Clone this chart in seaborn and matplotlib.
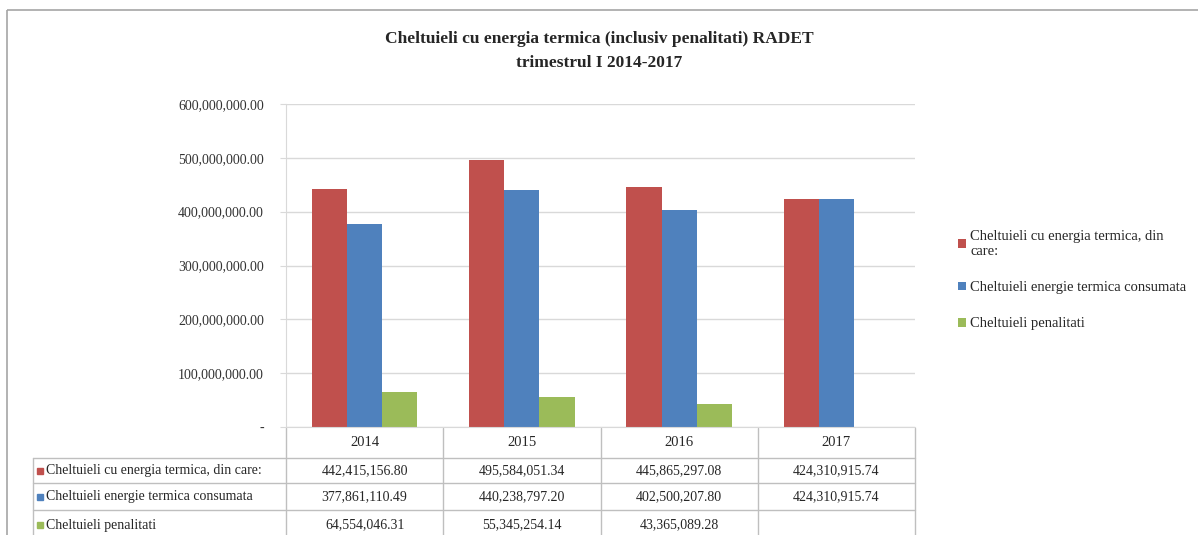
import numpy as np
import pandas as pd
import matplotlib
matplotlib.use("Agg")
from matplotlib import pyplot as plt
from matplotlib import transforms
from matplotlib.patches import Rectangle
import seaborn as sns

# date RADET trimestrul I
ani = ['2014', '2015', '2016', '2017']
serii = ['Cheltuieli cu energia termica, din care:',
         'Cheltuieli energie termica consumata',
         'Cheltuieli penalitati']
total = [442415156.80, 495584051.34, 445865297.08, 424310915.74]
consumata = [377861110.49, 440238797.20, 402500207.80, 424310915.74]
penalitati = [64554046.31, 55345254.14, 43365089.28, np.nan]
culori = ['#C0504D', '#4F81BD', '#9BBB59']

df = pd.DataFrame({
    'An': ani * 3,
    'Serie': [serii[0]] * 4 + [serii[1]] * 4 + [serii[2]] * 4,
    'Valoare': total + consumata + penalitati,
})

sns.set_style('white')
plt.rcParams['font.family'] = ['Liberation Serif', 'DejaVu Serif']

W, H = 1198, 535
fig = plt.figure(figsize=(W / 100, H / 100), dpi=100)

# overlay in pixel coordinates for frame and table
ov = fig.add_axes([0, 0, 1, 1], zorder=0)
ov.set_xlim(0, W)
ov.set_ylim(H, 0)
ov.axis('off')
ov.add_patch(Rectangle((7, 10), W, H, fill=False, ec='#A6A6A6', lw=1.2))

ax = fig.add_axes([286 / W, (H - 427) / H, (915 - 286) / W, (427 - 104) / H], zorder=1)
ax.patch.set_alpha(0)
sns.barplot(data=df, x='An', y='Valoare', hue='Serie', hue_order=serii,
            order=ani, palette=culori, saturation=1, width=0.67,
            errorbar=None, linewidth=0, edgecolor='none', ax=ax)

ax.set_ylim(0, 600000000)
ax.set_yticks(np.arange(0, 600000001, 100000000))
ax.yaxis.set_major_formatter(lambda v, p: '-' if v == 0 else f'{v:,.2f}')
ax.grid(axis='y', color='#D9D9D9', lw=1)
ax.set_axisbelow(True)
ax.set_xlabel('')
ax.set_ylabel('')
ax.set_xticks([])
for s in ['top', 'right']:
    ax.spines[s].set_visible(False)
for s in ['left', 'bottom']:
    ax.spines[s].set_color('#D9D9D9')
ax.tick_params(axis='y', length=4, color='#D9D9D9', labelsize=10,
               labelcolor='#333333', left=True, pad=12)

handles, labels = ax.get_legend_handles_labels()
ax.legend(handles, ['Cheltuieli cu energia termica, din\ncare:',
                    'Cheltuieli energie termica consumata',
                    'Cheltuieli penalitati'],
          loc='upper left', bbox_to_anchor=(952, 224),
          bbox_transform=ov.transData, frameon=False, fontsize=10.5,
          handlelength=0.55, handleheight=0.55, handletextpad=0.3,
          labelspacing=1.6, borderaxespad=0)

fig.text(0.5, 1 - 39 / H, 'Cheltuieli cu energia termica (inclusiv penalitati) RADET',
         ha='center', va='center', fontsize=12.5, fontweight='bold')
fig.text(0.5, 1 - 63 / H, 'trimestrul I 2014-2017',
         ha='center', va='center', fontsize=12.5, fontweight='bold')

# data table below the axes
tr = transforms.blended_transform_factory(ax.transData, ov.transData)
gri = '#BFBFBF'
y_rows = [428, 458, 483, 510, 540]
for i in range(len(ani) + 1):
    ov.plot([i - 0.5, i - 0.5], [428, 540], color=gri, lw=1, transform=tr, clip_on=False)
ov.plot([33, 33], [458, 540], color=gri, lw=1)
x_end = ax.transData.transform((3.5, 0))[0]
x_end = ov.transData.inverted().transform((x_end, 0))[0]
for y in y_rows[1:4]:
    ov.plot([33, x_end], [y, y], color=gri, lw=1)

for i, an in enumerate(ani):
    ov.text(i, 443, an, transform=tr, ha='center', va='center', fontsize=10.5, color='#262626')
rows = [total, consumata, penalitati]
for r, (vals, nume) in enumerate(zip(rows, serii)):
    yc = (y_rows[r + 1] + y_rows[r + 2]) / 2
    ov.add_patch(Rectangle((37, yc - 3), 6, 6, color=culori[r]))
    ov.text(46, yc, nume, ha='left', va='center', fontsize=10, color='#262626')
    for i, v in enumerate(vals):
        if not np.isnan(v):
            ov.text(i, yc, f'{v:,.2f}', transform=tr, ha='center', va='center',
                    fontsize=10, color='#262626')

fig.savefig('out.png', dpi=100)
